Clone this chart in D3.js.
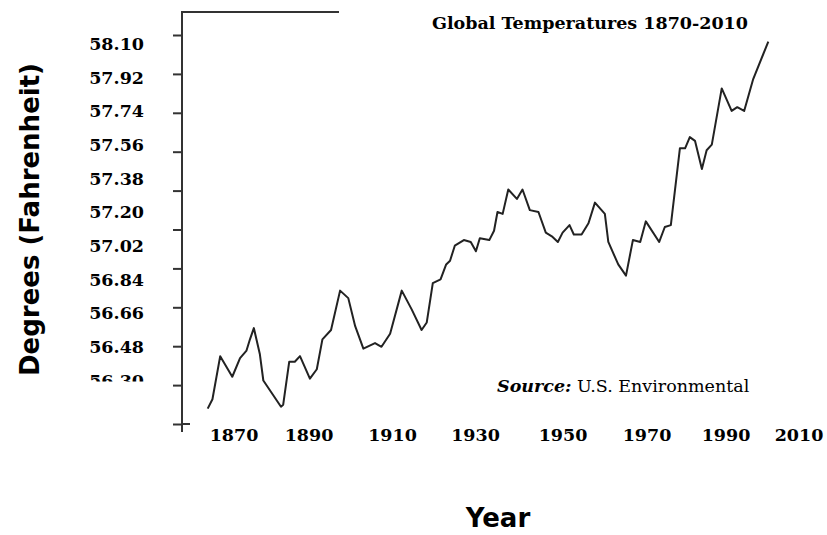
<!doctype html>
<html lang="en">
<head>
<meta charset="utf-8">
<title>Global Temperatures 1870-2010</title>
<script src="https://cdn.jsdelivr.net/npm/d3@7/dist/d3.min.js"></script>
<style>
  body { margin: 0; background: #fff; }
  .lab { font-family: "DejaVu Serif", serif; font-weight: bold; font-size: 17.5px; fill: #000; }
  .big { font-family: "DejaVu Sans", sans-serif; font-weight: bold; font-size: 26px; fill: #000; }
</style>
</head>
<body>
<svg width="827" height="535"></svg>
<script>
// temperature series (years, degrees F)
const years = [1880.0, 1881.1, 1882.9, 1885.7, 1887.5, 1889.0, 1889.8, 1890.7, 1892.1, 1892.9,
  1897.0, 1897.5, 1898.9, 1900.2, 1901.4, 1903.7, 1905.3, 1906.6, 1908.6, 1910.7,
  1912.6, 1914.2, 1916.1, 1918.8, 1920.3, 1922.3, 1925.0, 1927.3, 1929.6, 1930.8,
  1932.2, 1934.0, 1935.3, 1936.2, 1937.3, 1939.4, 1941.0, 1942.2, 1943.1, 1945.3,
  1946.4, 1947.2, 1948.4, 1949.7, 1951.7, 1953.0, 1954.7, 1956.7, 1958.4, 1959.8,
  1961.2, 1962.3, 1963.9, 1964.9, 1966.7, 1968.3, 1969.8, 1972.1, 1972.9, 1975.2,
  1977.0, 1978.6, 1980.3, 1981.6, 1984.7, 1986.0, 1987.4, 1989.5, 1990.7, 1991.8,
  1993.0, 1994.6, 1995.7, 1996.9, 1999.2, 2001.5, 2002.8, 2004.4, 2006.5, 2010.0];
const temps = [56.15, 56.20, 56.43, 56.32, 56.42, 56.46, 56.52, 56.58, 56.44, 56.30,
  56.16, 56.17, 56.40, 56.40, 56.43, 56.31, 56.36, 56.52, 56.57, 56.78,
  56.74, 56.59, 56.47, 56.50, 56.48, 56.55, 56.78, 56.68, 56.57, 56.61,
  56.82, 56.84, 56.92, 56.94, 57.02, 57.05, 57.04, 56.99, 57.06, 57.05,
  57.10, 57.20, 57.19, 57.32, 57.27, 57.32, 57.21, 57.20, 57.09, 57.07,
  57.04, 57.09, 57.13, 57.08, 57.08, 57.14, 57.25, 57.19, 57.04, 56.92,
  56.86, 57.05, 57.04, 57.15, 57.04, 57.12, 57.13, 57.54, 57.54, 57.60,
  57.58, 57.43, 57.53, 57.56, 57.86, 57.74, 57.76, 57.74, 57.91, 58.11];

const yearLabels = [1870, 1890, 1910, 1930, 1950, 1970, 1990, 2010];
const tempLabels = ["58.10", "57.92", "57.74", "57.56", "57.38", "57.20",
  "57.02", "56.84", "56.66", "56.48", "56.30"];

const svg = d3.select("svg");

// scales (the original chart uses slightly different ones for labels, ticks and line)
const xLine = d3.scaleLinear().domain([1880, 2010]).range([207.7, 768.3]);
const yVal = d3.scaleLinear().domain([56.30, 58.10]).range([380.5, 43.5]);
const xLab = d3.scaleLinear().domain(yearLabels).range([234, 309, 392.5, 475.5, 563, 647, 726, 799]);
const yTick = d3.scaleLinear().domain([0, tempLabels.length - 1]).range([424, 35]);

const axisX = 182;
const ink = "#333";

// y labels, the last one is cut off like in the original
svg.append("defs").append("clipPath").attr("id", "ylabclip")
  .append("rect").attr("x", 0).attr("y", 0).attr("width", 170).attr("height", 381.5);
svg.append("g").attr("clip-path", "url(#ylabclip)")
  .selectAll("text").data(tempLabels).enter().append("text")
  .attr("class", "lab")
  .attr("x", 144)
  .attr("y", d => yVal(+d))
  .attr("dy", "0.36em")
  .attr("text-anchor", "end")
  .text(d => d);

// x labels
svg.append("g").selectAll("text").data(yearLabels).enter().append("text")
  .attr("class", "lab")
  .attr("x", d => xLab(d))
  .attr("y", 441)
  .attr("text-anchor", "middle")
  .text(d => d);

// the temperature line
const pts = years.map((y, i) => [y, temps[i]]);
svg.append("path")
  .datum(pts)
  .attr("d", d3.line().x(d => xLine(d[0])).y(d => yVal(d[1])))
  .attr("fill", "none")
  .attr("stroke", "#222")
  .attr("stroke-width", 2)
  .attr("stroke-linejoin", "round");

// titles
svg.append("text").attr("class", "lab")
  .attr("x", 432).attr("y", 29)
  .text("Global Temperatures 1870-2010");

const src = svg.append("text").attr("class", "lab").attr("x", 497).attr("y", 392);
src.append("tspan").attr("font-style", "italic").text("Source:");
src.append("tspan").attr("font-weight", "normal").text(" U.S. Environmental");

svg.append("text").attr("class", "big")
  .attr("x", 498).attr("y", 527)
  .attr("text-anchor", "middle")
  .text("Year");

svg.append("text")
  .attr("transform", "translate(39,219.5) rotate(-90)")
  .attr("text-anchor", "middle")
  .style("font", "bold 26px 'DejaVu Sans'")
  .text("Degrees (Fahrenheit)");

// y ticks
const gy = svg.append("g").attr("transform", `translate(${axisX},0)`)
  .call(d3.axisLeft(yTick).tickValues(d3.range(0, tempLabels.length)).tickFormat("").tickSize(9).tickSizeOuter(0));
gy.select(".domain").remove();
gy.selectAll(".tick line").attr("stroke", ink).attr("stroke-width", 2);

// vertical axis line, top rule, and the little cross at the origin
svg.append("line")
  .attr("x1", axisX).attr("x2", axisX).attr("y1", 11).attr("y2", 432)
  .attr("stroke", ink).attr("stroke-width", 2);
svg.append("line")
  .attr("x1", axisX - 1).attr("x2", 339).attr("y1", 12).attr("y2", 12)
  .attr("stroke", ink).attr("stroke-width", 2);
svg.append("line")
  .attr("x1", axisX).attr("x2", axisX + 8)
  .attr("y1", yTick(0)).attr("y2", yTick(0))
  .attr("stroke", ink).attr("stroke-width", 2);
</script>
</body>
</html>
